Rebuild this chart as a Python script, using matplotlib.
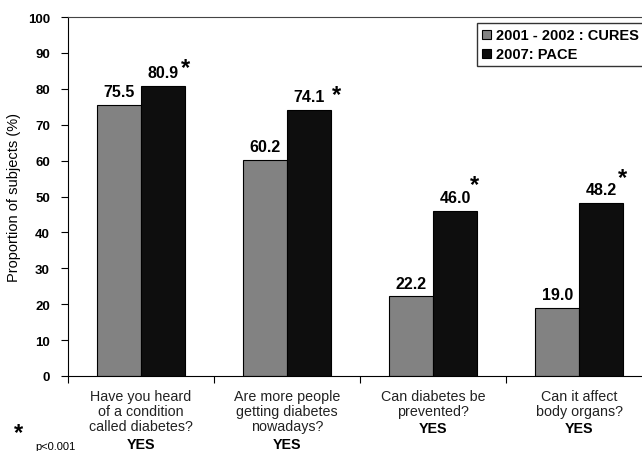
import numpy as np
import matplotlib.pyplot as plt

plt.rcParams['font.family'] = ['Liberation Sans', 'DejaVu Sans']

# данные
questions = ["Have you heard\nof a condition\ncalled diabetes?",
             "Are more people\ngetting diabetes\nnowadays?",
             "Can diabetes be\nprevented?",
             "Can it affect\nbody organs?"]
cures = [75.5, 60.2, 22.2, 19.0]
pace = [80.9, 74.1, 46.0, 48.2]
series_names = ["2001 - 2002 : CURES", "2007: PACE"]

# положение звёздочек относительно столбца (dx в делениях, dy в %)
star_dx = [0.12, 0.16, 0.1, 0.115]
star_dy = [2.4, 1.7, 4.6, 4.4]

fig = plt.figure(figsize=(6.42, 4.52), dpi=100)
ax = fig.add_axes([0.106, 0.166, 0.894, 0.794])

ind = np.arange(len(questions))
w = 0.3
b1 = ax.bar(ind - w / 2, cures, width=w, color='#828282', edgecolor='black', linewidth=0.8)
b2 = ax.bar(ind + w / 2, pace, width=w, color='#0e0e0e', edgecolor='black', linewidth=0.8)

for x, v in zip(ind, cures):
    ax.text(x - w / 2, v + 1.6, "%.1f" % v, ha='center', va='bottom',
            fontsize=11.5, fontweight='bold')
for i, (x, v) in enumerate(zip(ind, pace)):
    ax.text(x + w / 2, v + 1.6, "%.1f" % v, ha='center', va='bottom',
            fontsize=11.5, fontweight='bold')
    # звёздочка значимости
    ax.text(x + w / 2 + star_dx[i], v + star_dy[i] + 0.8, "*", ha='left',
            va='baseline', fontsize=17, fontweight='bold')

ax.set_ylim(0, 100)
ax.set_xlim(-0.5, 3.43)
ax.set_yticks(np.arange(0, 101, 10))
ax.tick_params(axis='y', direction='out', length=5, labelsize=9.5, pad=8)
for lab in ax.get_yticklabels():
    lab.set_fontweight('bold')

ax.set_xticks(ind - 0.5)
ax.set_xticklabels([])
ax.tick_params(axis='x', direction='out', length=5)

ax.spines['right'].set_visible(False)
ax.spines['top'].set_color('#444444')

ax.set_ylabel("Proportion of subjects (%)", fontsize=10.5, labelpad=5)

# подписи категорий
for x, q in zip(ind, questions):
    n = q.count("\n") + 1
    ax.text(x, -3.5, q, ha='center', va='top', fontsize=10.3, linespacing=1.1,
            color='#222222', clip_on=False)
    ax.text(x, -3.5 - n * 4.5, "YES", ha='center', va='top', fontsize=10.3,
            fontweight='bold', clip_on=False)

fig.text(0.022, 0.016, "*", fontsize=17, fontweight='bold', ha='left', va='bottom')
fig.text(0.055, 0.012, "p<0.001", fontsize=8, ha='left', va='center')

ax.legend([b1, b2], series_names, loc='upper right', bbox_to_anchor=(1.004, 0.983),
          frameon=True, fancybox=False, edgecolor='black', handlelength=0.6,
          handleheight=0.6, handletextpad=0.35, borderpad=0.35, labelspacing=0.35,
          borderaxespad=0.0, prop={'weight': 'bold', 'size': 10.5})

plt.savefig('out.png', dpi=100)
